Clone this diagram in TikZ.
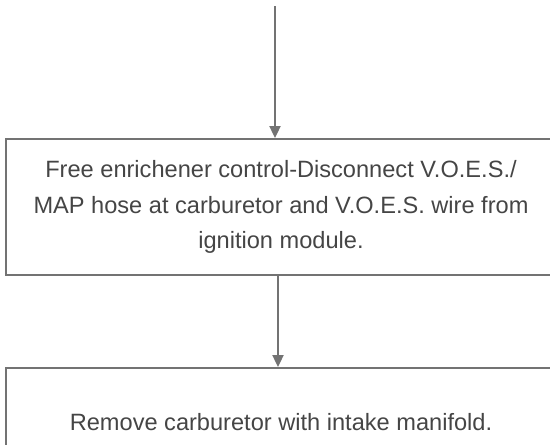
\documentclass[tikz,border=0pt]{standalone}
\usepackage{fontspec}
\setmainfont{Liberation Sans}
\usetikzlibrary{arrows.meta}
\definecolor{linegray}{gray}{0.45}
\definecolor{textgray}{gray}{0.27}
\begin{document}
\begin{tikzpicture}[x=1pt,y=-1pt,
  stepbox/.style={draw=linegray, line width=1.8pt, rectangle, inner sep=0pt,
    text=textgray, align=center, font=\fontsize{23.6}{35.5}\selectfont},
  arr/.style={draw=linegray, line width=1.8pt, -{Triangle[length=12pt,width=11pt]}}]
\useasboundingbox (0,0) rectangle (550,445);
\node[stepbox, minimum width=550pt, minimum height=136pt] (box1) at (281,207)
  {Free enrichener control-Disconnect V.O.E.S./\\MAP hose at carburetor and V.O.E.S. wire from\\ignition module.};
\node[stepbox, minimum width=550pt, minimum height=108pt] (box2) at (281,422)
  {Remove carburetor with intake manifold.};
\coordinate (start) at (275,6);
\coordinate (mid) at (278,0);
\draw[arr] (start) -- (start |- box1.north);
\draw[arr] (mid |- box1.south) -- (mid |- box2.north);
\end{tikzpicture}
\end{document}
